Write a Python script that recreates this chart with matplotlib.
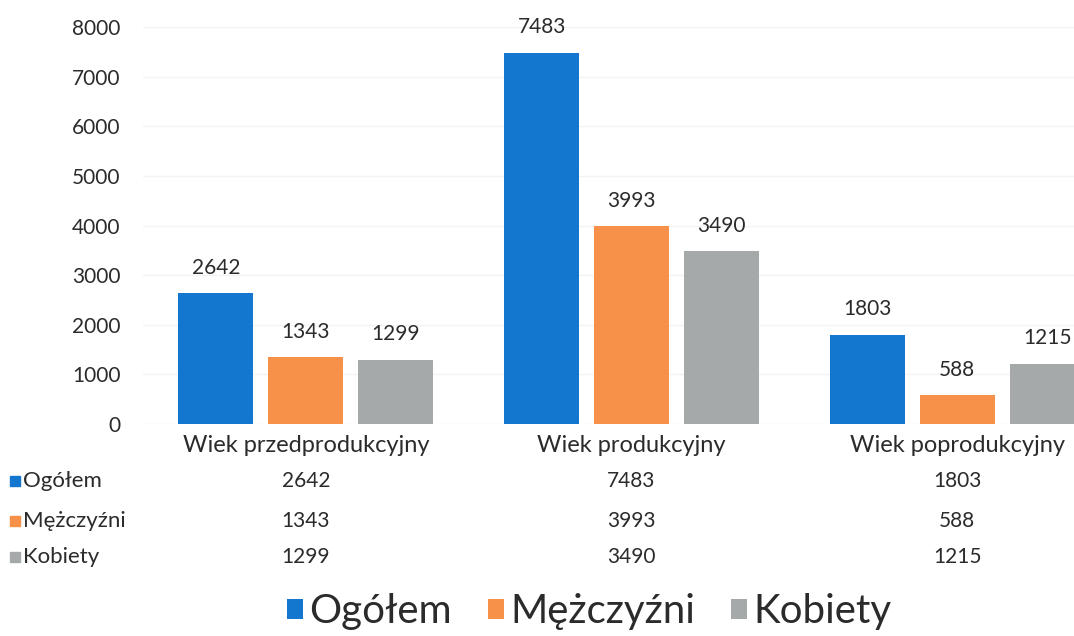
import numpy as np
import matplotlib.pyplot as plt
from matplotlib.patches import Rectangle
from matplotlib.transforms import blended_transform_factory

plt.rcParams['font.family'] = ['Lato', 'DejaVu Sans']

categories = ['Wiek przedprodukcyjny', 'Wiek produkcyjny', 'Wiek poprodukcyjny']
series = ['Ogółem', 'Mężczyźni', 'Kobiety']
ogolem = [2642, 7483, 1803]
mezczyzni = [1343, 3993, 588]
kobiety = [1299, 3490, 1215]
colors = ['#1376cf', '#f7914a', '#a6a9a9']
yticks = [0, 1000, 2000, 3000, 4000, 5000, 6000, 7000, 8000]

W, H = 1074, 636
fig = plt.figure(figsize=(W / 100, H / 100), dpi=100)
# plot area runs past the right edge, like the cropped original
ax = fig.add_axes([143 / W, 1 - 424 / H, 977 / W, (424 - 27) / H])

x = np.arange(len(categories))
step = 0.276
width = 0.23
bars = []
for j, (vals, col) in enumerate(zip([ogolem, mezczyzni, kobiety], colors)):
    b = ax.bar(x + (j - 1) * step, vals, width, color=col, zorder=2)
    bars.append(b)
    for xi, v in zip(x + (j - 1) * step, vals):
        ax.annotate(str(v), (xi, v), xytext=(0, 11), textcoords='offset points',
                    ha='center', va='bottom', fontsize=15, color='#2b2b2b')

ax.set_xlim(-0.5, 2.5)
ax.set_ylim(0, 8000)
ax.set_yticks(yticks)
ax.set_yticklabels([str(t) for t in yticks], fontsize=15, color='#2b2b2b')
ax.tick_params(axis='y', length=0, pad=16)
ax.set_xticks([])
ax.grid(axis='y', color='#f3f3f3', linewidth=1, zorder=0)
for s in ax.spines.values():
    s.set_visible(False)

# data table under the chart
tr = blended_transform_factory(ax.transData, fig.transFigure)
for xi, cat in zip(x, categories):
    ax.text(xi, 1 - 446 / H, cat, transform=tr, ha='center', va='center',
            fontsize=17, color='#2b2b2b')
row_y = [481, 521, 557]
for r, (name, vals, col) in enumerate(zip(series, [ogolem, mezczyzni, kobiety], colors)):
    yf = 1 - row_y[r] / H
    fig.patches.append(Rectangle((10 / W, yf - 5 / H), 10 / W, 10 / H,
                                 transform=fig.transFigure, color=col))
    fig.text(23 / W, yf, name, ha='left', va='center', fontsize=16, color='#2b2b2b')
    for xi, v in zip(x, vals):
        ax.text(xi, yf, str(v), transform=tr, ha='center', va='center',
                fontsize=15, color='#2b2b2b')

fig.legend(bars, series, loc='center', bbox_to_anchor=(589 / W, 1 - 612 / H),
           ncol=3, frameon=False, fontsize=29, handlelength=0.4, handleheight=0.4,
           handletextpad=0.15, columnspacing=0.9, labelcolor='#2b2b2b')

fig.savefig('out.png', dpi=100)
